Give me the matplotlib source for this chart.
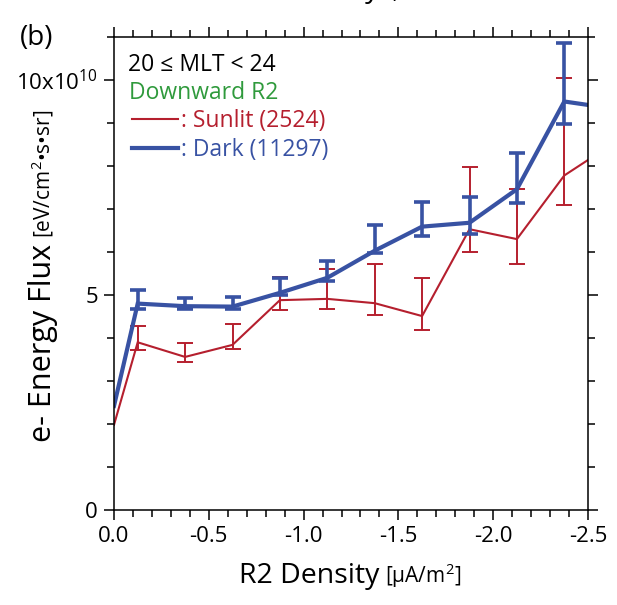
import numpy as np
import matplotlib
matplotlib.use('Agg')
import matplotlib.pyplot as plt
from matplotlib.ticker import MultipleLocator

plt.rcParams['font.family'] = ['Open Sans', 'DejaVu Sans']
plt.rcParams['mathtext.fontset'] = 'custom'
plt.rcParams['mathtext.rm'] = 'Open Sans'
plt.rcParams['mathtext.it'] = 'Open Sans'

# bin centres of R2 density [uA/m^2]
x_bins = [-0.125, -0.375, -0.625, -0.875, -1.125, -1.375, -1.625, -1.875, -2.125, -2.375]
# line continues to the axis edges
x_edges = [0.0, -2.5]

# e- energy flux, units of 1e10 eV/cm2/s/sr
sunlit = [3.90, 3.56, 3.84, 4.88, 4.91, 4.81, 4.51, 6.53, 6.30, 7.78]
sunlit_hi = [4.29, 3.88, 4.33, 5.43, 5.60, 5.72, 5.40, 7.98, 7.46, 10.04]
sunlit_lo = [3.72, 3.45, 3.74, 4.65, 4.67, 4.53, 4.19, 6.01, 5.71, 7.09]
sunlit_ends = [1.98, 8.14]

dark = [4.80, 4.74, 4.73, 5.05, 5.40, 6.03, 6.59, 6.68, 7.46, 9.50]
dark_hi = [5.12, 4.92, 4.95, 5.39, 5.78, 6.62, 7.17, 7.29, 8.31, 10.87]
dark_lo = [4.67, 4.67, 4.67, 5.00, 5.33, 5.97, 6.37, 6.42, 7.15, 8.97]
dark_ends = [2.42, 9.42]

xticks = [0.0, -0.5, -1.0, -1.5, -2.0, -2.5]
xticklabels = ['0.0', '-0.5', '-1.0', '-1.5', '-2.0', '-2.5']
yticks = [0, 5, 10]
yticklabels = ['0', '5', '10x10$^{10}$']

red = '#b51f2e'
blue = '#3852a3'
green = '#2f9a3c'

W, H = 617, 605
fig = plt.figure(figsize=(W/100, H/100), dpi=100)
ax = fig.add_axes([114/W, 1-510/H, 474/W, 473/H])


def series(vals, hi, lo, ends, color, lw, elw):
    xs = [x_edges[0]] + x_bins + [x_edges[1]]
    ys = [ends[0]] + vals + [ends[1]]
    ax.plot(xs, ys, color=color, lw=lw, solid_joinstyle='miter')
    v = np.array(vals)
    err = [v - np.array(lo), np.array(hi) - v]
    ax.errorbar(x_bins, vals, yerr=err, fmt='none', ecolor=color,
                elinewidth=elw, capsize=6, capthick=elw)


series(sunlit, sunlit_hi, sunlit_lo, sunlit_ends, red, 1.5, 1.4)
series(dark, dark_hi, dark_lo, dark_ends, blue, 3.0, 2.6)

ax.set_xlim(0, -2.5)
ax.set_ylim(0, 11)
ax.set_xticks(xticks)
ax.set_xticklabels(xticklabels)
ax.set_yticks(yticks)
ax.set_yticklabels(yticklabels)
ax.xaxis.set_minor_locator(MultipleLocator(0.1))
ax.yaxis.set_minor_locator(MultipleLocator(1))
ax.tick_params(which='both', direction='out', top=True, right=True,
               width=1.1, labelsize=16, pad=4)
ax.tick_params(which='major', length=7.5)
ax.tick_params(which='minor', length=5)
for s in ax.spines.values():
    s.set_linewidth(1.1)

# legend block
fs = 16.5
fig.text(128/W, 1-71/H, '20 ≤ MLT < 24', fontsize=fs, va='baseline')
fig.text(129/W, 1-99/H, 'Downward R2', color=green, fontsize=fs, va='baseline')
fig.add_artist(plt.Line2D([132/W, 178/W], [1-119/H]*2, color=red, lw=1.5))
fig.text(181/W, 1-127/H, ': Sunlit (2524)', color=red, fontsize=fs, va='baseline')
fig.add_artist(plt.Line2D([132/W, 178/W], [1-148/H]*2, color=blue, lw=3))
fig.text(181/W, 1-156/H, ': Dark (11297)', color=blue, fontsize=fs, va='baseline')

fig.text(20/W, 1-45/H, '(b)', fontsize=20, va='baseline')

fig.canvas.draw()
r = fig.canvas.get_renderer()


def two_part(x, y, big, small, rot, bs, ss):
    # big text followed by smaller bracketed units, centred on (x, y) pixels
    t1 = fig.text(0, 0, big, fontsize=bs, rotation=rot, transform=None,
                  ha='left', va='baseline', rotation_mode='anchor')
    t2 = fig.text(0, 0, small, fontsize=ss, rotation=rot, transform=None,
                  ha='left', va='baseline', rotation_mode='anchor')
    b1 = t1.get_window_extent(r)
    b2 = t2.get_window_extent(r)
    gap = 6
    if rot == 0:
        w = b1.width + gap + b2.width
        t1.set_position((x - w/2, y))
        t2.set_position((x - w/2 + b1.width + gap, y))
    else:
        h = b1.height + gap + b2.height
        t1.set_position((x, y - h/2))
        t2.set_position((x, y - h/2 + b1.height + gap))


two_part(350, H - 583, 'R2 Density', '[μA/m$^2$]', 0, 20.5, 15)
two_part(51, H - 276, 'e- Energy Flux', '[eV/cm$^2$•s•sr]', 90, 22, 15)
# clipped label of the panel above
two_part(350, H + 3, 'R2 Density', '[μA/m$^2$]', 0, 20.5, 15)

fig.savefig('out.png', dpi=100)
